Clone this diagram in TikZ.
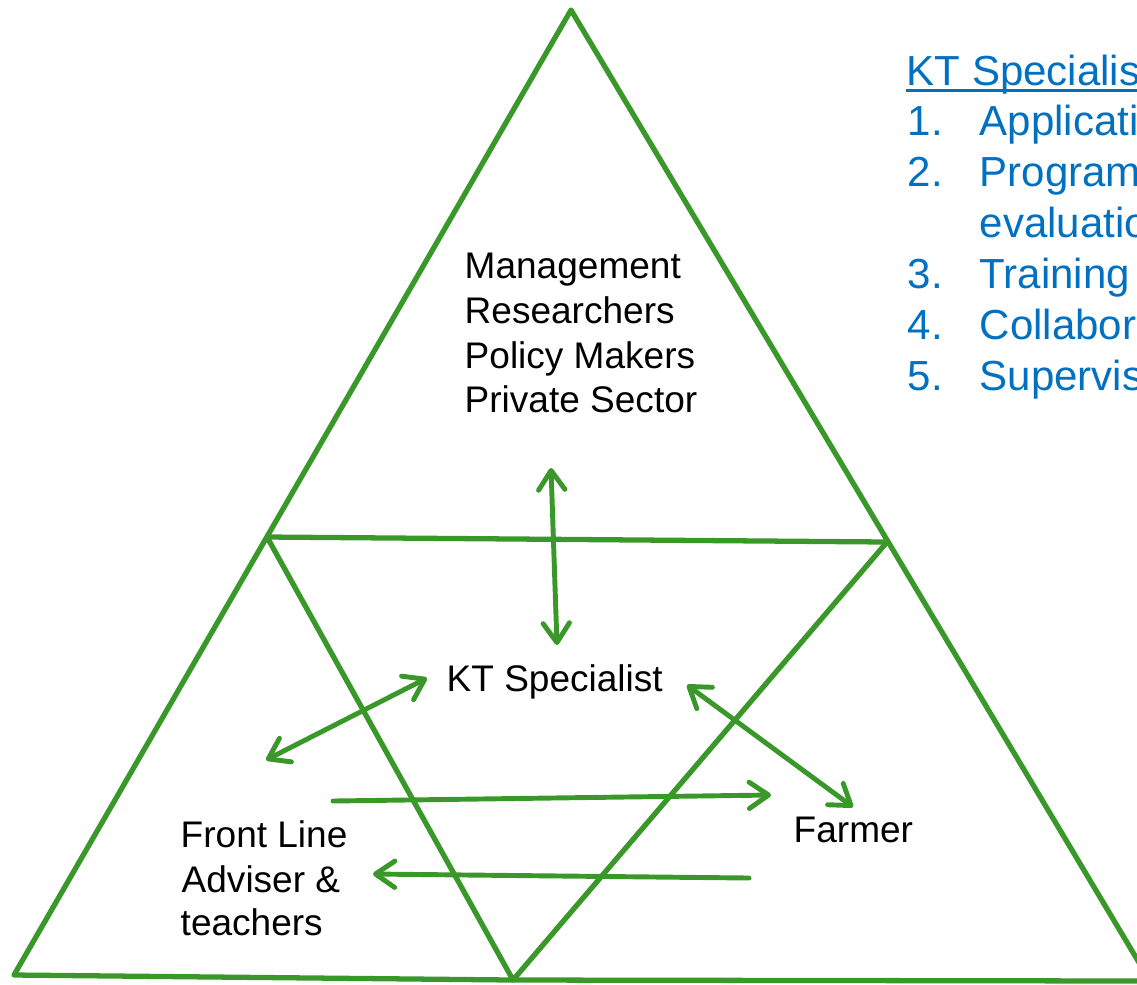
\documentclass[tikz,border=0pt]{standalone}
\usepackage{fontspec}
\setmainfont{Liberation Sans}
\usetikzlibrary{arrows.meta}
\definecolor{tgreen}{RGB}{58,152,42}
\definecolor{tblue}{RGB}{0,112,192}
\begin{document}
\begin{tikzpicture}[x=0.01cm,y=-0.01cm,
  edge/.style={draw=tgreen, line width=1.5pt, line join=round, line cap=round},
  link/.style={draw=tgreen, line width=1.4pt, line cap=round,
    {Straight Barb[length=5.5pt,width=7.5pt,round]}-{Straight Barb[length=5.5pt,width=7.5pt,round]}},
  oneway/.style={draw=tgreen, line width=1.4pt, line cap=round,
    -{Straight Barb[length=5.5pt,width=7.5pt,round]}},
  lbl/.style={anchor=base west, inner sep=0pt, text=black, font=\fontsize{10.53pt}{12.6pt}\selectfont},
  blu/.style={anchor=base west, inner sep=0pt, text=tblue, font=\fontsize{11.95pt}{14pt}\selectfont}]
\useasboundingbox (0,0) rectangle (1137,984);
\clip (0,0) rectangle (1137,984);
% triangle vertices
\coordinate (A) at (571,10);
\coordinate (BL) at (14,975);
\coordinate (BM) at (513,980);
\coordinate (BR) at (1150,981);
\coordinate (ML) at (267,537);
\coordinate (MR) at (887,542);
\draw[edge] (A) -- (BL) -- (BM) -- (BR) -- cycle;
\draw[edge] (ML) -- (MR) -- (BM) -- cycle;
% top text
\node[lbl] (m1) at (464,278) {Management};
\node[lbl] (m2) at (464,323) {Researchers};
\node[lbl] (m3) at (464,368) {Policy Makers};
\node[lbl] (m4) at (464,412) {Private Sector};
\node[lbl] (kt) at (446,691) {KT Specialist};
\node[lbl] (farmer) at (793,842) {Farmer};
\node[lbl] (f1) at (180,847) {Front Line};
\node[lbl] (f2) at (181,892) {Adviser \&};
\node[lbl] (f3) at (180,935) {teachers};
% blue list
\node[blu] (h) at (906,85) {KT Specialis};
\draw[tblue, line width=0.8pt] ([yshift=-1.5pt]h.base west) -- ([yshift=-1.5pt]h.base east);
\node[blu] (n1) at (907,135) {1.};
\node[blu] (t1) at (979,135) {Applicati};
\node[blu] (n2) at (907,186) {2.};
\node[blu] (t2) at (979,186) {Program};
\node[blu] (t2b) at (979,237) {evaluatio};
\node[blu] (n3) at (907,288) {3.};
\node[blu] (t3) at (979,288) {Training};
\node[blu] (n4) at (907,339) {4.};
\node[blu] (t4) at (979,339) {Collabor};
\node[blu] (n5) at (907,390) {5.};
\node[blu] (t5) at (979,390) {Supervis};
% arrows
\coordinate (v1) at (551,468);
\coordinate (v2) at (557,645);
\coordinate (d1a) at (427,678);
\coordinate (d1b) at (266,760);
\coordinate (d2a) at (687,685);
\coordinate (d2b) at (853,807);
\coordinate (r1) at (333,801);
\coordinate (r2) at (771,795);
\coordinate (l1) at (749,878);
\coordinate (l2) at (373,874);
\draw[link] (v1) -- (v2);
\draw[link] (d1a) -- (d1b);
\draw[link] (d2a) -- (d2b);
\draw[oneway] (r1) -- (r2);
\draw[oneway] (l1) -- (l2);
\end{tikzpicture}
\end{document}
